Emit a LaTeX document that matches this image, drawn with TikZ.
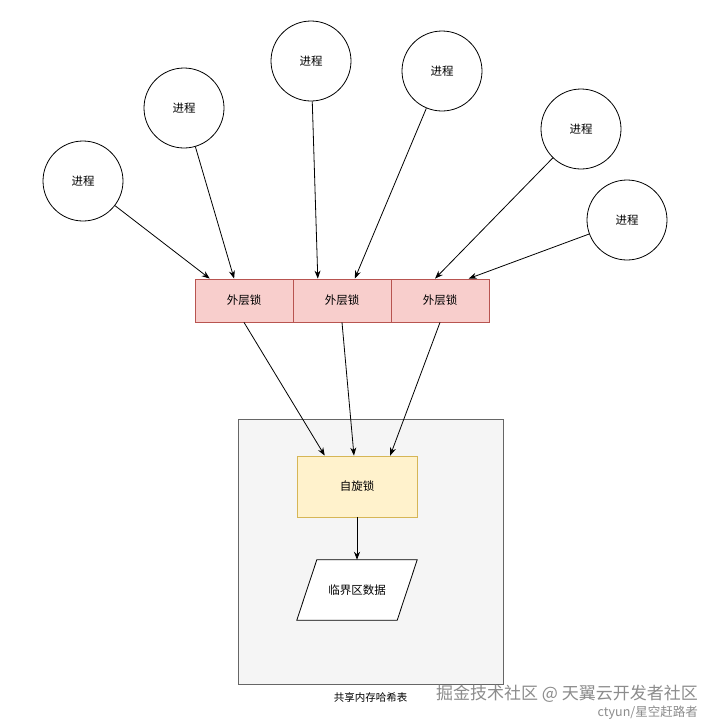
\documentclass[tikz,border=0pt]{standalone}
\usepackage{fontspec}
\setmainfont{Noto Sans CJK SC}
\definecolor{lockred}{HTML}{F8CECC}
\definecolor{lockredline}{HTML}{B85450}
\definecolor{spinyellow}{HTML}{FFF2CC}
\definecolor{spinyellowline}{HTML}{D6B656}
\definecolor{shmgray}{HTML}{F5F5F5}
\definecolor{shmgrayline}{HTML}{666666}
\usepackage{tikz}
\usetikzlibrary{arrows.meta,calc}

\begin{document}
\begin{tikzpicture}[x=1pt,y=-1pt,
    proc/.style={draw, circle, minimum size=80pt, inner sep=0pt, line width=0.8pt,
                 font=\fontsize{11.5}{13}\selectfont},
    outerlock/.style={draw=lockredline, fill=lockred, minimum width=98pt, minimum height=43pt,
                      inner sep=0pt, line width=0.8pt, font=\fontsize{11.5}{13}\selectfont},
    arr/.style={-{Stealth[length=8pt,width=6pt]}, line width=0.8pt}]
\useasboundingbox[fill=white] (0,0) rectangle (718,726);

% Shared memory hash table
\node[draw=shmgrayline, fill=shmgray, minimum width=265pt, minimum height=265pt,
      inner sep=0pt, line width=0.8pt] (shm) at (370.5,551.5) {};
\node[font=\fontsize{10.5}{12}\selectfont, below=5pt] (shmcap) at (shm.south) {共享内存哈希表};

% Processes
\node[proc] (p1) at (83,181) {进程};
\node[proc] (p2) at (184,108) {进程};
\node[proc] (p3) at (311,61) {进程};
\node[proc] (p4) at (442,71) {进程};
\node[proc] (p5) at (581,129) {进程};
\node[proc] (p6) at (627,220) {进程};

% Outer locks
\node[outerlock] (l1) at (244,300.5) {外层锁};
\node[outerlock] (l2) at (342,300.5) {外层锁};
\node[outerlock] (l3) at (440,300.5) {外层锁};

% Spin lock and critical data
\node[draw=spinyellowline, fill=spinyellow, minimum width=120pt, minimum height=61pt,
      inner sep=0pt, line width=0.8pt, font=\fontsize{11.5}{13}\selectfont]
      (spin) at (357,486.5) {自旋锁};
\node[minimum width=120pt, minimum height=60pt, inner sep=0pt]
      (data) at (357,590) {};
\draw[fill=white, line width=0.8pt] (data.south west) -- ($(data.north west)+(20,0)$)
      -- (data.north east) -- ($(data.south east)+(-20,0)$) -- cycle;
\node[font=\fontsize{11.5}{13}\selectfont] (datatext) at (data) {临界区数据};

% Process -> outer lock
\draw[arr] (p1) -- ($(l1.north west)!0.153!(l1.north east)$);
\draw[arr] (p2) -- ($(l1.north west)!0.4!(l1.north east)$);
\draw[arr] (p3) -- ($(l2.north west)!0.255!(l2.north east)$);
\draw[arr] (p4) -- ($(l2.north west)!0.63!(l2.north east)$);
\draw[arr] (p5) -- ($(l3.north west)!0.45!(l3.north east)$);
\draw[arr] (p6) -- ($(l3.north west)!0.79!(l3.north east)$);

% Outer lock -> spin lock
\draw[arr] (l1.south) -- ($(spin.north west)!0.233!(spin.north east)$);
\draw[arr] (l2.south) -- ($(spin.north west)!0.475!(spin.north east)$);
\draw[arr] (l3.south) -- ($(spin.north west)!0.775!(spin.north east)$);
\draw[arr] (spin) -- (data);

% Site marks
\node[anchor=east, text=black!45, font=\fontsize{17}{19}\selectfont, inner sep=0pt]
      (mark1) at (698,694) {掘金技术社区 @ 天翼云开发者社区};
\node[anchor=east, text=black!45, font=\fontsize{12.5}{14}\selectfont, inner sep=0pt]
      (mark2) at (698,713) {ctyun/星空赶路者};
\end{tikzpicture}
\end{document}
